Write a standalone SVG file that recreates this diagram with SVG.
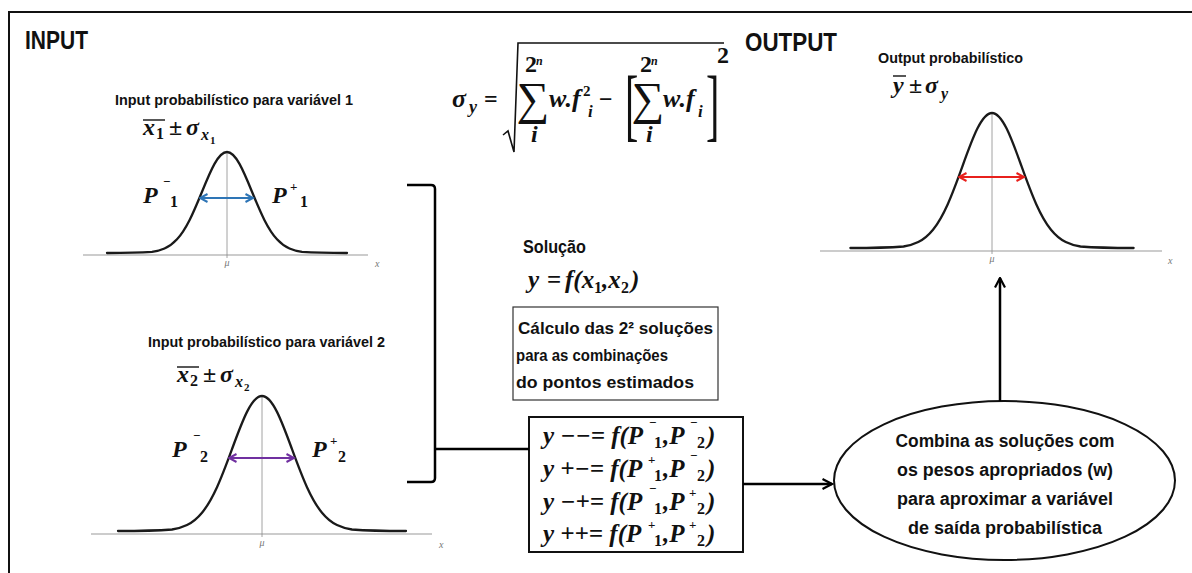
<svg xmlns="http://www.w3.org/2000/svg" width="1192" height="573" viewBox="0 0 1192 573">
<style>
.t{font-family:"Liberation Sans",Arial,sans-serif;font-weight:bold;fill:#111}
.m{font-family:"Liberation Serif","Times New Roman",serif;font-weight:bold;font-style:italic;fill:#111;font-size:24px}
.up{font-style:normal}
.sup{font-size:13px;font-style:normal}
.sub{font-size:16px}
.dn{font-size:16px;font-style:normal}
.ax{stroke:#9a9a9a;stroke-width:1.2}
.vc{stroke:#8a8a8a;stroke-width:0.8}
.curve{fill:none;stroke:#1a1a1a;stroke-width:2.3;vector-effect:non-scaling-stroke;stroke-linecap:round}
.lbl{font-family:"Liberation Serif",serif;font-style:italic;font-size:10px;fill:#777}
.conn{fill:none;stroke:#000;stroke-width:2.5}
.ovl{stroke:#111;stroke-width:1.4}
.br{font-family:"Liberation Serif",serif;font-size:40px;fill:#111}
.sig{font-family:"Liberation Serif",serif;font-size:46px;fill:#111}
.eq{font-size:25px}
</style>
<defs>
<path id="gauss" class="curve" d="M-4.8,0 C-4.2,0 -3.6,-0.001 -3,-0.0111 C-2.8333,-0.0167 -2.6667,-0.0256 -2.5,-0.0439 C-2.3333,-0.0622 -2.1667,-0.0902 -2,-0.1353 C-1.8333,-0.1804 -1.6667,-0.2435 -1.5,-0.3247 C-1.3333,-0.4059 -1.1667,-0.5054 -1,-0.6065 C-0.8333,-0.7076 -0.6667,-0.8089 -0.5,-0.8825 C-0.3333,-0.9561 -0.1667,-1 0,-1 C0.1667,-1 0.3333,-0.9561 0.5,-0.8825 C0.6667,-0.8089 0.8333,-0.7076 1,-0.6065 C1.1667,-0.5054 1.3333,-0.4059 1.5,-0.3247 C1.6667,-0.2435 1.8333,-0.1804 2,-0.1353 C2.1667,-0.0902 2.3333,-0.0622 2.5,-0.0439 C2.6667,-0.0256 2.8333,-0.0167 3,-0.0111 C3.6,-0.001 4.2,0 4.8,0"/>
<marker id="ak" viewBox="0 0 12 12" refX="10.5" refY="6" markerWidth="12" markerHeight="12" markerUnits="userSpaceOnUse" orient="auto-start-reverse"><path d="M1,1 L10.5,6 L1,11" fill="none" stroke="#000" stroke-width="2.2"/></marker>
<marker id="ab" viewBox="0 0 10 10" refX="8.5" refY="5" markerWidth="10" markerHeight="10" markerUnits="userSpaceOnUse" orient="auto-start-reverse"><path d="M1,1 L8.5,5 L1,9" fill="none" stroke="#2E75B6" stroke-width="2"/></marker>
<marker id="ap" viewBox="0 0 10 10" refX="8.5" refY="5" markerWidth="10" markerHeight="10" markerUnits="userSpaceOnUse" orient="auto-start-reverse"><path d="M1,1 L8.5,5 L1,9" fill="none" stroke="#7030A0" stroke-width="2"/></marker>
<marker id="ar" viewBox="0 0 10 10" refX="8.5" refY="5" markerWidth="10" markerHeight="10" markerUnits="userSpaceOnUse" orient="auto-start-reverse"><path d="M1,1 L8.5,5 L1,9" fill="none" stroke="#E8201C" stroke-width="2"/></marker>
</defs>
<rect x="0" y="0" width="1192" height="573" fill="#fff"/>
<g id="frame"><path d="M9,573 L9,12 L1192,12" fill="none" stroke="#111" stroke-width="2"/></g>

<g id="titles">
<text class="t" x="25" y="49" font-size="25" textLength="63" lengthAdjust="spacingAndGlyphs">INPUT</text>
<text class="t" x="745" y="51" font-size="25" textLength="92" lengthAdjust="spacingAndGlyphs">OUTPUT</text>
</g>

<g id="input1">
<text class="t" x="115" y="105" font-size="15.5" textLength="238" lengthAdjust="spacingAndGlyphs">Input probabilístico para variável 1</text>
<line class="ovl" x1="143" y1="120" x2="165" y2="120"/>
<text class="m"><tspan x="143" y="135">x</tspan><tspan class="dn" x="156" y="139">1</tspan><tspan class="up" x="169" y="135">±</tspan><tspan x="186" y="135">σ</tspan><tspan class="sub" x="201" y="140">x</tspan><tspan class="up" font-size="11" x="210" y="144">1</tspan></text>
<line class="ax" x1="83" y1="255" x2="368" y2="255"/>
<line class="vc" x1="227" y1="152" x2="227" y2="258"/>
<use href="#gauss" transform="translate(227,253) scale(25,101)"/>
<text class="lbl" x="227" y="266" text-anchor="middle">μ</text>
<text class="lbl" x="375" y="267">x</text>
<line x1="200" y1="198" x2="253" y2="198" stroke="#2E75B6" stroke-width="2.2" marker-start="url(#ab)" marker-end="url(#ab)"/>
<text class="m"><tspan x="143" y="203">P</tspan><tspan class="sup" x="163" y="186">−</tspan><tspan class="dn" x="170" y="207">1</tspan></text>
<text class="m"><tspan x="272" y="203">P</tspan><tspan class="sup" x="290" y="191">+</tspan><tspan class="dn" x="300" y="207">1</tspan></text>
</g>

<g id="input2">
<text class="t" x="148" y="347" font-size="15.5" textLength="237" lengthAdjust="spacingAndGlyphs">Input probabilístico para variável 2</text>
<line class="ovl" x1="177" y1="367" x2="199" y2="367"/>
<text class="m"><tspan x="177" y="382">x</tspan><tspan class="dn" x="190" y="386">2</tspan><tspan class="up" x="203" y="382">±</tspan><tspan x="220" y="382">σ</tspan><tspan class="sub" x="235" y="387">x</tspan><tspan class="up" font-size="11" x="244" y="391">2</tspan></text>
<line class="ax" x1="91" y1="534" x2="432" y2="534"/>
<line class="vc" x1="262" y1="396" x2="262" y2="537"/>
<use href="#gauss" transform="translate(262,531) scale(30,135)"/>
<text class="lbl" x="262" y="546" text-anchor="middle">μ</text>
<text class="lbl" x="439" y="548">x</text>
<line x1="229" y1="458" x2="294" y2="458" stroke="#7030A0" stroke-width="2.2" marker-start="url(#ap)" marker-end="url(#ap)"/>
<text class="m"><tspan x="172" y="457">P</tspan><tspan class="sup" x="193" y="440">−</tspan><tspan class="dn" x="200" y="462">2</tspan></text>
<text class="m"><tspan x="312" y="457">P</tspan><tspan class="sup" x="330" y="445">+</tspan><tspan class="dn" x="338" y="462">2</tspan></text>
</g>

<g id="formula">
<text class="m" font-size="26"><tspan x="452" y="107" font-size="26">σ</tspan><tspan x="469" y="113" font-size="18">y</tspan><tspan class="up" x="484" y="107">=</tspan></text>
<polyline points="503,135 508,131 514,152 518,43 724,43" fill="none" stroke="#111" stroke-width="1.6"/>
<text class="sig" x="533" y="114" text-anchor="middle">∑</text>
<text class="m" font-size="16"><tspan class="up" x="525" y="72">2</tspan><tspan font-size="12" x="536" y="65">n</tspan></text>
<text class="m" font-size="16" x="531" y="142">i</text>
<text class="m"><tspan x="549" y="107" font-size="26">w.f</tspan><tspan class="up" font-size="15" x="583" y="96">2</tspan><tspan font-size="17" x="588" y="117">i</tspan><tspan class="up" x="599" y="107">−</tspan></text>
<text class="br" transform="translate(625,131) scale(1,2)">[</text>
<text class="sig" x="648" y="114" text-anchor="middle">∑</text>
<text class="m" font-size="16"><tspan class="up" x="640" y="72">2</tspan><tspan font-size="12" x="651" y="65">n</tspan></text>
<text class="m" font-size="16" x="646" y="142">i</text>
<text class="m"><tspan x="663" y="107" font-size="26">w.f</tspan><tspan font-size="17" x="698" y="117">i</tspan></text>
<text class="br" transform="translate(706,131) scale(1,2)">]</text>
<text class="m up" font-size="17" x="717" y="63">2</text>
</g>

<g id="solucao">
<text class="t" x="523" y="253" font-size="17.5" textLength="63" lengthAdjust="spacingAndGlyphs">Solução</text>
<text class="m eq"><tspan x="528" y="288">y</tspan><tspan class="up" x="547" y="288">=</tspan><tspan x="565" y="288">f(x</tspan><tspan class="dn" x="594" y="293">1</tspan><tspan x="602" y="288">,x</tspan><tspan class="dn" x="621" y="293">2</tspan><tspan x="631" y="288">)</tspan></text>
</g>

<g id="calc-box">
<rect x="513" y="307" width="205" height="93" fill="#fff" stroke="#333" stroke-width="1.2"/>
<text class="t" x="518" y="334" font-size="17" textLength="195" lengthAdjust="spacingAndGlyphs">Cálculo das 2² soluções</text>
<text class="t" x="516" y="361" font-size="17" textLength="152" lengthAdjust="spacingAndGlyphs">para as combinações</text>
<text class="t" x="516" y="388" font-size="17" textLength="178" lengthAdjust="spacingAndGlyphs">do pontos estimados</text>
</g>

<g id="eq-box">
<rect x="529" y="417" width="214" height="135" fill="#fff" stroke="#111" stroke-width="2"/>
<text class="m eq"><tspan x="543" y="444">y −−= f(P</tspan><tspan class="sup" x="649" y="427">−</tspan><tspan class="dn" x="654" y="448">1</tspan><tspan x="663" y="444">,P</tspan><tspan class="sup" x="690" y="427">−</tspan><tspan class="dn" x="697" y="448">2</tspan><tspan x="707" y="444">)</tspan></text>
<text class="m eq"><tspan x="543" y="477">y +−= f(P</tspan><tspan class="sup" x="648" y="464">+</tspan><tspan class="dn" x="654" y="481">1</tspan><tspan x="663" y="477">,P</tspan><tspan class="sup" x="690" y="460">−</tspan><tspan class="dn" x="697" y="481">2</tspan><tspan x="707" y="477">)</tspan></text>
<text class="m eq"><tspan x="543" y="510">y −+= f(P</tspan><tspan class="sup" x="649" y="493">−</tspan><tspan class="dn" x="654" y="514">1</tspan><tspan x="663" y="510">,P</tspan><tspan class="sup" x="689" y="497">+</tspan><tspan class="dn" x="697" y="514">2</tspan><tspan x="707" y="510">)</tspan></text>
<text class="m eq"><tspan x="543" y="542">y ++= f(P</tspan><tspan class="sup" x="648" y="529">+</tspan><tspan class="dn" x="654" y="546">1</tspan><tspan x="663" y="542">,P</tspan><tspan class="sup" x="689" y="529">+</tspan><tspan class="dn" x="697" y="546">2</tspan><tspan x="707" y="542">)</tspan></text>
</g>

<g id="combine-ellipse">
<ellipse cx="1004.5" cy="480.5" rx="170.5" ry="79.5" fill="#fff" stroke="#111" stroke-width="2"/>
<text class="t" x="1005" y="447" font-size="17.5" text-anchor="middle" textLength="219" lengthAdjust="spacingAndGlyphs">Combina as soluções com</text>
<text class="t" x="1005" y="476" font-size="17.5" text-anchor="middle" textLength="216" lengthAdjust="spacingAndGlyphs">os pesos apropriados (w)</text>
<text class="t" x="1005" y="505" font-size="17.5" text-anchor="middle" textLength="216" lengthAdjust="spacingAndGlyphs">para aproximar a variável</text>
<text class="t" x="1005" y="534" font-size="17.5" text-anchor="middle" textLength="194" lengthAdjust="spacingAndGlyphs">de saída probabilística</text>
</g>

<g id="output">
<text class="t" x="878" y="63" font-size="15.5" textLength="145" lengthAdjust="spacingAndGlyphs">Output probabilístico</text>
<line class="ovl" x1="893" y1="76" x2="906" y2="76"/>
<text class="m"><tspan x="893" y="93">y</tspan><tspan class="up" x="909" y="93">±</tspan><tspan x="925" y="93">σ</tspan><tspan class="sub" x="941" y="99">y</tspan></text>
<line class="ax" x1="820" y1="251" x2="1162" y2="251"/>
<line class="vc" x1="992" y1="113" x2="992" y2="254"/>
<use href="#gauss" transform="translate(992,248) scale(29.5,135)"/>
<text class="lbl" x="992" y="262" text-anchor="middle">μ</text>
<text class="lbl" x="1168" y="264">x</text>
<line x1="959" y1="177" x2="1024" y2="177" stroke="#E8201C" stroke-width="2.2" marker-start="url(#ar)" marker-end="url(#ar)"/>
</g>

<g id="connectors">
<path class="conn" d="M407,185 L431,185 Q435,185 435,189 L435,478 Q435,482 431,482 L407,482"/>
<path class="conn" d="M435,449 L529,449"/>
<path class="conn" d="M743,484 L832,484" marker-end="url(#ak)"/>
<path class="conn" d="M1000,401 L1000,278" marker-end="url(#ak)"/>
</g>
</svg>
